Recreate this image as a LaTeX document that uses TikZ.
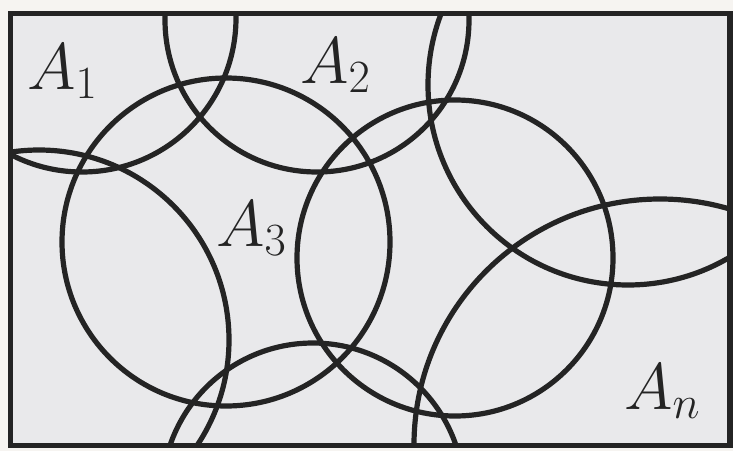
\RequirePackage{fix-cm}
\documentclass[tikz,border=0pt]{standalone}
\usepackage{tikz}
\definecolor{paper}{RGB}{246,244,241}
\definecolor{field}{RGB}{233,233,235}
\definecolor{ink}{RGB}{36,36,36}
\begin{document}
\begin{tikzpicture}[x=1pt, y=1pt,
    setline/.style={ink, line width=5.2pt},
    setlabel/.style={ink, anchor=base west, inner sep=0pt, font=\fontsize{66}{70}\selectfont}]
    \useasboundingbox (0,0) rectangle (733,451);
    \fill[paper] (0,0) rectangle (733,451);
    \fill[field] (10.5,5.5) rectangle (730,437.5);
    \begin{scope}
        \clip (10.5,5.5) rectangle (730,437.5);
        \draw[setline] (82,433) circle[radius=154pt];
        \draw[setline] (317,431) circle[radius=152pt];
        \draw[setline] (226,209) circle[radius=164pt];
        \draw[setline] (455,193) circle[radius=158pt];
        \draw[setline] (628,366) circle[radius=200pt];
        \draw[setline] (660,6) circle[radius=246pt];
        \draw[setline] (39,111) circle[radius=190pt];
        \draw[setline] (313,-43) circle[radius=151pt];
    \end{scope}
    \draw[ink, line width=5.4pt] (10.5,5.5) rectangle (730,437.5);
    \node[setlabel] (a1) at (27,362) {$A_1$};
    \node[setlabel] (a2) at (300,368) {$A_2$};
    \node[setlabel] (a3) at (216,205) {$A_3$};
    \node[setlabel] (an) at (624,42) {$A_n$};
\end{tikzpicture}
\end{document}
